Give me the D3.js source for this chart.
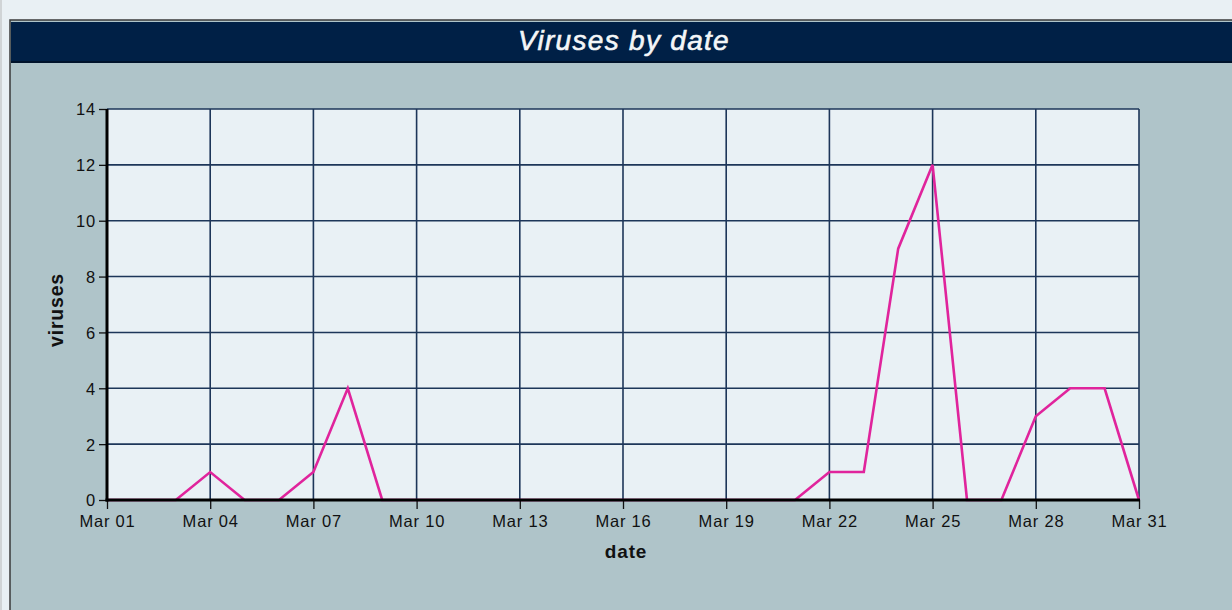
<!DOCTYPE html>
<html>
<head>
<meta charset="utf-8">
<script src="https://cdn.jsdelivr.net/npm/d3@7"></script>
<style>
  body { margin: 0; background: #e9f0f4; }
  svg { display: block; }
</style>
</head>
<body>
<svg id="svg" width="1232" height="610"></svg>
<script>
// virus counts per day, March
const days = ['03-01','03-02','03-03','03-04','03-05','03-06','03-07','03-08','03-09','03-10',
  '03-11','03-12','03-13','03-14','03-15','03-16','03-17','03-18','03-19','03-20',
  '03-21','03-22','03-23','03-24','03-25','03-26','03-27','03-28','03-29','03-30','03-31']
const viruses = [0,0,0,1,0,0,1,4,0,0, 0,0,0,0,0,0,0,0,0,0, 0,1,1,9,12,0,0,3,4,4,0]
const yTicks = [0,2,4,6,8,10,12,14]
const xTickDays = ['03-01','03-04','03-07','03-10','03-13','03-16','03-19','03-22','03-25','03-28','03-31']

const parse = d3.timeParse('%Y-%m-%d')
const data = days.map((d, i) => ({ date: parse('2009-' + d), value: viruses[i] }))

let svg = d3.select('#svg')
let font = 'Liberation Sans, Arial, sans-serif'

svg.append('rect').attr('x', 0).attr('y', 0).attr('width', 2).attr('height', 610).attr('fill', '#d0d4d6')

// panel
svg.append('rect').attr('x', 10).attr('y', 20).attr('width', 1240).attr('height', 600)
  .attr('fill', '#afc4c9').attr('stroke', '#3a3a3a').attr('stroke-width', 1.5)
svg.append('rect').attr('x', 11).attr('y', 22).attr('width', 1240).attr('height', 40)
  .attr('fill', '#002046')
svg.append('line').attr('x1', 11).attr('x2', 1232).attr('y1', 62).attr('y2', 62)
  .attr('stroke', '#00132b').attr('stroke-width', 2)
svg.append('text').attr('x', 624).attr('y', 50)
  .attr('text-anchor', 'middle')
  .attr('font-family', font)
  .attr('font-size', 28).attr('font-style', 'italic').attr('letter-spacing', 1.3)
  .attr('fill', '#f4f6f8').attr('stroke', '#f4f6f8').attr('stroke-width', 0.6)
  .text('Viruses by date')

let margin = { left: 107, top: 109, right: 1139, bottom: 500 }

let x = d3.scaleTime()
  .domain([data[0].date, data[data.length - 1].date])
  .range([margin.left, margin.right])
let y = d3.scaleLinear().domain([0, 14]).range([margin.bottom, margin.top])

svg.append('rect').attr('x', margin.left).attr('y', margin.top)
  .attr('width', margin.right - margin.left).attr('height', margin.bottom - margin.top)
  .attr('fill', '#e9f1f5')

let xTicks = xTickDays.map(d => parse('2009-' + d))

// grid
svg.append('g').selectAll('line').data(yTicks).enter().append('line')
  .attr('x1', margin.left).attr('x2', margin.right)
  .attr('y1', d => y(d)).attr('y2', d => y(d))
  .attr('stroke', '#1d3659').attr('stroke-width', 1.6)
svg.append('g').selectAll('line').data(xTicks).enter().append('line')
  .attr('x1', d => x(d)).attr('x2', d => x(d))
  .attr('y1', margin.top).attr('y2', margin.bottom)
  .attr('stroke', '#1d3659').attr('stroke-width', 1.6)

// line
svg.append('path').datum(data)
  .attr('d', d3.line().x(d => x(d.date)).y(d => y(d.value)))
  .attr('fill', 'none').attr('stroke', '#e0249c').attr('stroke-width', 2.6)
  .attr('stroke-linejoin', 'miter')

// axes
let yAxis = svg.append('g').attr('transform', `translate(${margin.left},0)`)
  .call(d3.axisLeft(y).tickValues(yTicks).tickSize(8).tickPadding(3))
let xAxis = svg.append('g').attr('transform', `translate(0,${margin.bottom})`)
  .call(d3.axisBottom(x).tickValues(xTicks).tickSize(9).tickPadding(6)
    .tickFormat(d3.timeFormat('%b %d')))
for (let ax of [xAxis, yAxis]) {
  ax.select('.domain').remove()
  ax.selectAll('.tick line').attr('stroke', '#111').attr('stroke-width', 1.3)
  ax.selectAll('.tick text').attr('fill', '#111').attr('font-family', font)
    .attr('font-size', 16.5).attr('letter-spacing', 0.8)
}
yAxis.selectAll('.tick text').attr('dy', '0.36em')
svg.append('line').attr('x1', margin.left).attr('x2', margin.left)
  .attr('y1', margin.top).attr('y2', margin.bottom + 1.5)
  .attr('stroke', '#000').attr('stroke-width', 3)
svg.append('line').attr('x1', margin.left - 1.5).attr('x2', margin.right + 1)
  .attr('y1', margin.bottom).attr('y2', margin.bottom)
  .attr('stroke', '#000').attr('stroke-width', 3)

svg.append('text').attr('x', 626).attr('y', 558).attr('text-anchor', 'middle')
  .attr('font-family', font).attr('font-size', 19).attr('font-weight', 'bold')
  .attr('letter-spacing', 0.8).attr('fill', '#111')
  .text('date')
svg.append('text').attr('transform', 'translate(63,310) rotate(-90)').attr('text-anchor', 'middle')
  .attr('font-family', font).attr('font-size', 19.5).attr('font-weight', 'bold')
  .attr('letter-spacing', 0.8).attr('fill', '#111')
  .text('viruses')
</script>
</body>
</html>
